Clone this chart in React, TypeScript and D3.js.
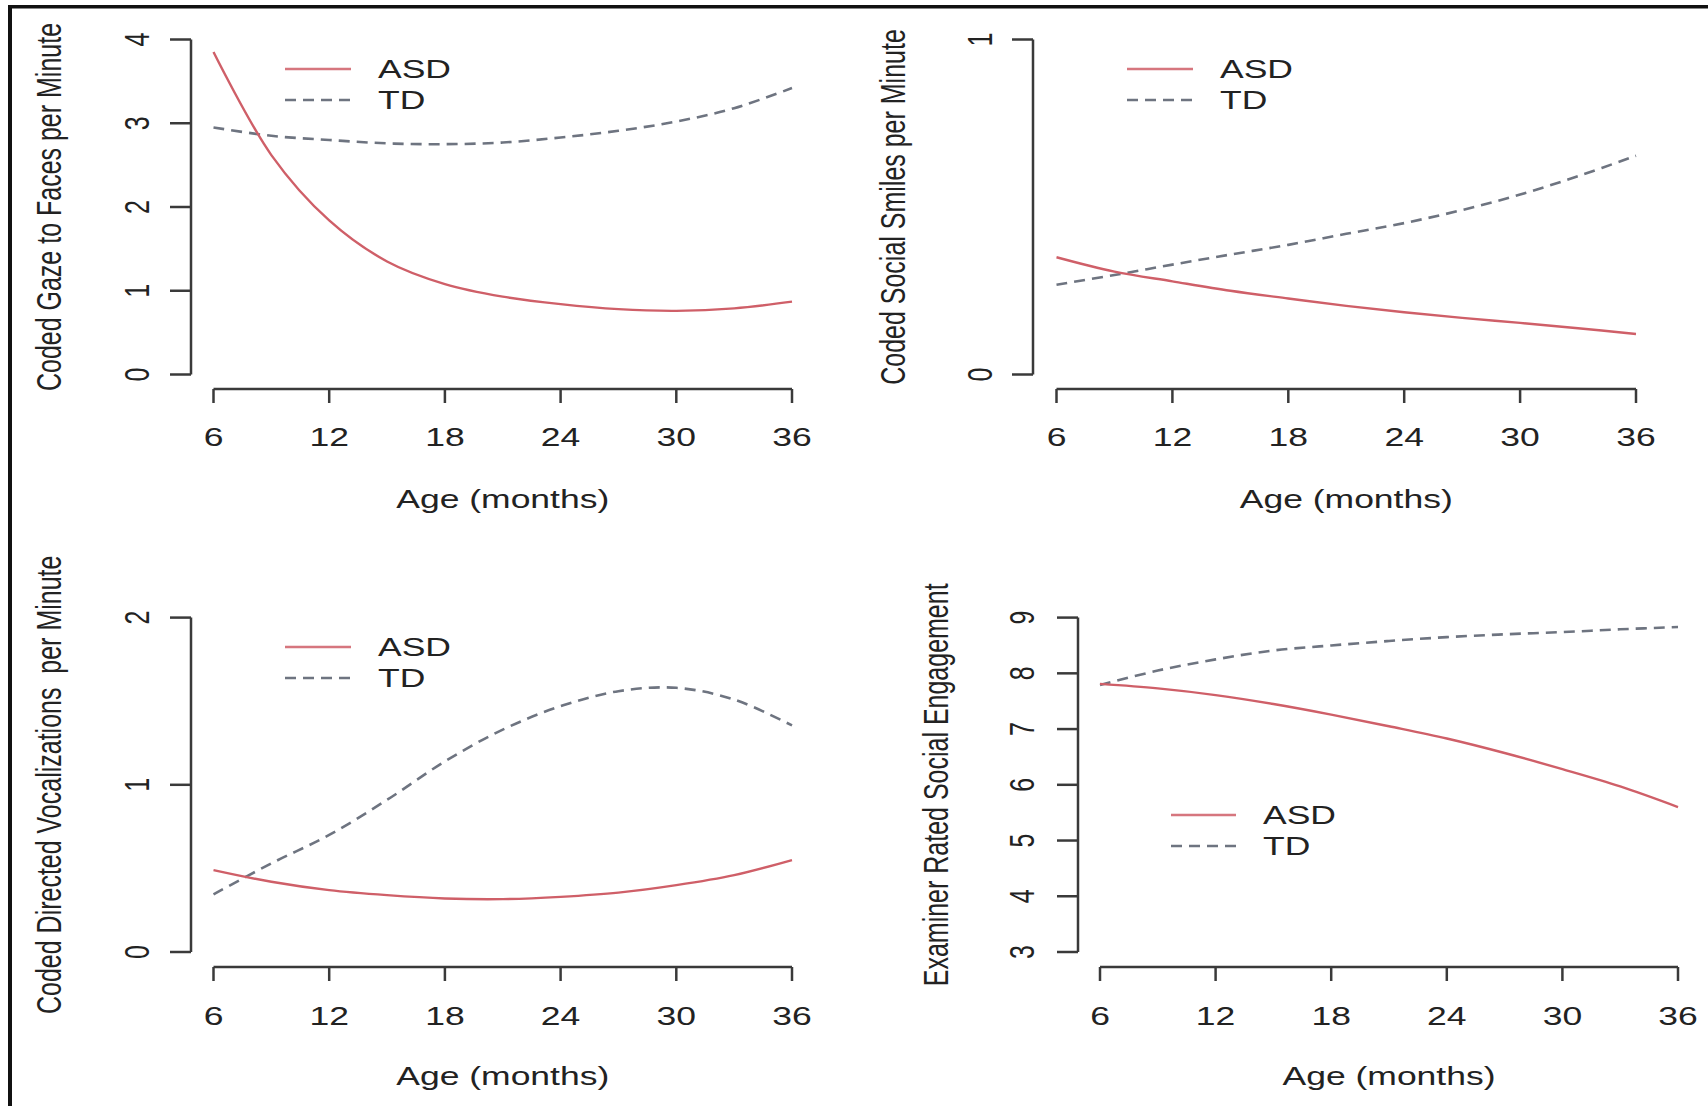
import React from "react";
import * as d3 from "d3";

// ages (months) at which the fitted curves are read
const ages = [6, 9, 12, 15, 18, 21, 24, 27, 30, 33, 36];
const xTicks = [6, 12, 18, 24, 30, 36];

// Coded gaze to faces per minute
const gazeASD = [3.85, 2.62, 1.84, 1.35, 1.08, 0.93, 0.84, 0.78, 0.76, 0.79, 0.87];
const gazeTD = [2.95, 2.85, 2.8, 2.76, 2.75, 2.77, 2.83, 2.91, 3.02, 3.18, 3.42];

// Coded social smiles per minute
const smilesASD = [0.35, 0.307, 0.278, 0.25, 0.227, 0.205, 0.186, 0.169, 0.154, 0.138, 0.121];
const smilesTD = [0.268, 0.297, 0.328, 0.358, 0.387, 0.42, 0.452, 0.491, 0.537, 0.592, 0.653];

// Coded directed vocalizations per minute
const vocalASD = [0.49, 0.42, 0.37, 0.34, 0.32, 0.316, 0.33, 0.355, 0.4, 0.46, 0.55];
const vocalTD = [0.345, 0.53, 0.7, 0.91, 1.14, 1.33, 1.47, 1.56, 1.58, 1.51, 1.355];

// Examiner rated social engagement
const engageASD = [7.81, 7.73, 7.61, 7.45, 7.26, 7.05, 6.83, 6.57, 6.28, 5.97, 5.6];
const engageTD = [7.79, 8.05, 8.25, 8.41, 8.5, 8.58, 8.65, 8.7, 8.74, 8.79, 8.83];

const ASD_COLOR = "#cf5f68";
const TD_COLOR = "#6e7480";
const AXIS_COLOR = "#3a3a3a";
const TEXT_COLOR = "#222";
const FONT = "'Liberation Sans', Arial, sans-serif";
const FS = 25;
const SX = 1.42; // the source image is stretched horizontally

const panels = [
  {
    title: "Coded Gaze to Faces per Minute",
    asd: gazeASD,
    td: gazeTD,
    xRange: [213.5, 792],
    axisY: 389,
    yAxisX: 191,
    yDomain: [0, 4],
    yRange: [374.5, 39.5],
    yTicks: [0, 1, 2, 3, 4],
    tickLabelX: 137,
    titleX: 49,
    xLabelY: 437,
    xTitleY: 499,
    legend: { x1: 285, x2: 351, y: 69, textX: 378 },
  },
  {
    title: "Coded Social Smiles per Minute",
    asd: smilesASD,
    td: smilesTD,
    xRange: [1056.5, 1636],
    axisY: 389,
    yAxisX: 1033,
    yDomain: [0, 1],
    yRange: [374.5, 39.5],
    yTicks: [0, 1],
    tickLabelX: 980,
    titleX: 893,
    xLabelY: 437,
    xTitleY: 499,
    legend: { x1: 1127, x2: 1193, y: 69, textX: 1220 },
  },
  {
    title: "Coded Directed Vocalizations  per Minute",
    asd: vocalASD,
    td: vocalTD,
    xRange: [213.5, 792],
    axisY: 967,
    yAxisX: 191,
    yDomain: [0, 2],
    yRange: [952, 617.6],
    yTicks: [0, 1, 2],
    tickLabelX: 137,
    titleX: 49,
    xLabelY: 1016,
    xTitleY: 1076,
    legend: { x1: 285, x2: 351, y: 647, textX: 378 },
  },
  {
    title: "Examiner Rated Social Engagement",
    asd: engageASD,
    td: engageTD,
    xRange: [1100, 1678],
    axisY: 967,
    yAxisX: 1078,
    yDomain: [3, 9],
    yRange: [952, 617.6],
    yTicks: [3, 4, 5, 6, 7, 8, 9],
    tickLabelX: 1022,
    titleX: 936,
    xLabelY: 1016,
    xTitleY: 1076,
    legend: { x1: 1171, x2: 1236, y: 815, textX: 1263 },
  },
];

const Panel = ({ p }) => {
  const x = d3.scaleLinear().domain([6, 36]).range(p.xRange);
  const y = d3.scaleLinear().domain(p.yDomain).range(p.yRange);
  const line = d3
    .line<number>()
    .x((d, i) => x(ages[i]))
    .y((d) => y(d))
    .curve(d3.curveCatmullRom.alpha(0.5));

  const yMid = (p.yRange[0] + p.yRange[1]) / 2;
  const textProps = { fill: TEXT_COLOR, fontFamily: FONT, fontSize: FS };

  return (
    <g>
      {/* curves */}
      <path d={line(p.td)} fill="none" stroke={TD_COLOR} strokeWidth={2.6} strokeDasharray="11,7" />
      <path d={line(p.asd)} fill="none" stroke={ASD_COLOR} strokeWidth={2.4} />

      {/* x axis */}
      <line x1={x(6)} x2={x(36)} y1={p.axisY} y2={p.axisY} stroke={AXIS_COLOR} strokeWidth={2.5} />
      {xTicks.map((t) => (
        <g key={"xt" + t}>
          <line x1={x(t)} x2={x(t)} y1={p.axisY} y2={p.axisY + 14} stroke={AXIS_COLOR} strokeWidth={2.5} />
          <text
            transform={`translate(${x(t)},${p.xLabelY}) scale(${SX},1)`}
            textAnchor="middle"
            dominantBaseline="central"
            {...textProps}
          >
            {t}
          </text>
        </g>
      ))}
      <text
        transform={`translate(${(p.xRange[0] + p.xRange[1]) / 2},${p.xTitleY}) scale(${SX},1)`}
        textAnchor="middle"
        dominantBaseline="central"
        {...textProps}
      >
        Age (months)
      </text>

      {/* y axis */}
      <line
        x1={p.yAxisX}
        x2={p.yAxisX}
        y1={y(p.yDomain[0])}
        y2={y(p.yDomain[1])}
        stroke={AXIS_COLOR}
        strokeWidth={2.5}
      />
      {p.yTicks.map((t) => (
        <g key={"yt" + t}>
          <line x1={p.yAxisX - 21} x2={p.yAxisX} y1={y(t)} y2={y(t)} stroke={AXIS_COLOR} strokeWidth={2.5} />
          <text
            transform={`translate(${p.tickLabelX},${y(t)}) scale(${SX},1) rotate(-90)`}
            textAnchor="middle"
            dominantBaseline="central"
            {...textProps}
          >
            {t}
          </text>
        </g>
      ))}
      <text
        transform={`translate(${p.titleX},${yMid}) scale(${SX},1) rotate(-90)`}
        textAnchor="middle"
        dominantBaseline="central"
        style={{ whiteSpace: "pre" }}
        {...textProps}
      >
        {p.title}
      </text>

      {/* legend */}
      <line x1={p.legend.x1} x2={p.legend.x2} y1={p.legend.y} y2={p.legend.y} stroke={ASD_COLOR} strokeWidth={2.6} opacity={0.85} />
      <line
        x1={p.legend.x1}
        x2={p.legend.x2}
        y1={p.legend.y + 31}
        y2={p.legend.y + 31}
        stroke={TD_COLOR}
        strokeWidth={2.6}
        strokeDasharray="11,7"
      />
      <text
        transform={`translate(${p.legend.textX},${p.legend.y}) scale(${SX},1)`}
        dominantBaseline="central"
        {...textProps}
      >
        ASD
      </text>
      <text
        transform={`translate(${p.legend.textX},${p.legend.y + 31}) scale(${SX},1)`}
        dominantBaseline="central"
        {...textProps}
      >
        TD
      </text>
    </g>
  );
};

const App = () => {
  return (
    <svg
      width={1708}
      height={1106}
      style={{ position: "absolute", left: 0, top: 0, background: "#fff" }}
    >
      <rect x={0} y={0} width={1708} height={1106} fill="#fff" />
      {/* frame from the scanned figure */}
      <rect x={8} y={5} width={1700} height={3.5} fill="#111" />
      <rect x={8} y={5} width={4} height={1101} fill="#111" />
      {panels.map((p, i) => (
        <Panel key={i} p={p} />
      ))}
    </svg>
  );
};

export default App;
